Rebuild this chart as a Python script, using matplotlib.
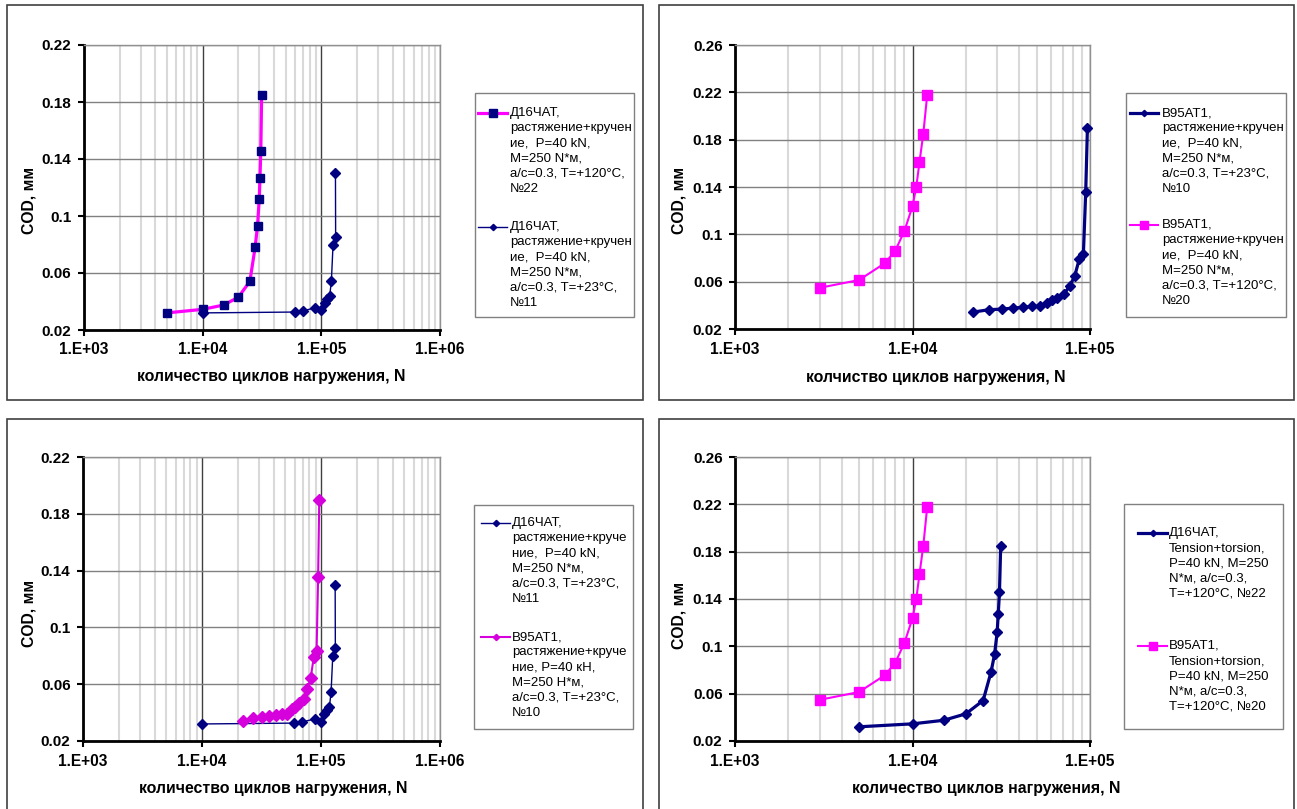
import numpy as np
import matplotlib
matplotlib.use('Agg')
from matplotlib import pyplot as plt
from matplotlib.lines import Line2D
from matplotlib.patches import Rectangle
from matplotlib.ticker import LogLocator

plt.rcParams['font.family'] = ['Liberation Sans', 'DejaVu Sans']

# Д16ЧАТ, T=+120°C, №22
d16_n22_N = [5000, 10000, 15000, 20000, 25000, 27700, 29000, 30000, 30400, 30900, 31400]
d16_n22_cod = [0.032, 0.0345, 0.0375, 0.043, 0.0542, 0.0783, 0.0933, 0.1122, 0.127, 0.1455, 0.1852]

# Д16ЧАТ, T=+23°C, №11
d16_n11_N = [10000, 59500, 69500, 89000, 100000, 107000, 112500, 117500, 121500, 125500, 132000, 131500]
d16_n11_cod = [0.032, 0.0326, 0.0335, 0.0355, 0.0337, 0.039, 0.0418, 0.0436, 0.0542, 0.0797, 0.0853, 0.130]

# В95АТ1, T=+23°C, №10
b95_n10_N = [22000, 26900, 31800, 36800, 41900, 46900, 52200, 57000, 60800, 65500, 71300,
             76800, 82000, 87100, 91800, 94600, 96700]
b95_n10_cod = [0.0343, 0.0363, 0.0368, 0.0377, 0.0383, 0.0391, 0.0391, 0.0422, 0.0442, 0.0465, 0.0493,
               0.0563, 0.0647, 0.0794, 0.0837, 0.1358, 0.1899]

# В95АТ1, T=+120°C, №20
b95_n20_N = [3000, 5000, 7000, 8000, 9000, 10000, 10500, 10950, 11500, 12100]
b95_n20_cod = [0.0548, 0.0614, 0.0757, 0.0862, 0.1028, 0.1237, 0.1400, 0.1611, 0.1848, 0.2178]

x_label = 'количество циклов нагружения, N'
x_label_typo = 'колчиство циклов нагружения, N'
y_label = 'COD, мм'

leg_d16_22_ru = ['Д16ЧАТ,', 'растяжение+кручен', 'ие,  P=40 kN,', 'M=250 N*м,', 'a/c=0.3, T=+120°C,', '№22']
leg_d16_11_ru = ['Д16ЧАТ,', 'растяжение+кручен', 'ие,  P=40 kN,', 'M=250 N*м,', 'a/c=0.3, T=+23°C,', '№11']
leg_b95_10_ru = ['В95АТ1,', 'растяжение+кручен', 'ие,  P=40 kN,', 'M=250 N*м,', 'a/c=0.3, T=+23°C,', '№10']
leg_b95_20_ru = ['В95АТ1,', 'растяжение+кручен', 'ие,  P=40 kN,', 'M=250 N*м,', 'a/c=0.3, T=+120°C,', '№20']
leg_d16_11_b = ['Д16ЧАТ,', 'растяжение+круче', 'ние,  P=40 kN,', 'M=250 N*м,', 'a/c=0.3, T=+23°C,', '№11']
leg_b95_10_b = ['В95АТ1,', 'растяжение+круче', 'ние, P=40 кН,', 'M=250 Н*м,', 'a/c=0.3, T=+23°C,', '№10']
leg_d16_22_en = ['Д16ЧАТ,', 'Tension+torsion,', 'P=40 kN, M=250', 'N*м, a/c=0.3,', 'T=+120°C, №22']
leg_b95_20_en = ['В95АТ1,', 'Tension+torsion,', 'P=40 kN, M=250', 'N*м, a/c=0.3,', 'T=+120°C, №20']

NAVY = '#000080'
MAGENTA = '#ff00ff'
VIOLET = '#d600dc'

W, H = 1297, 809
fig = plt.figure(figsize=(W / 100, H / 100), dpi=100)


def fx(px):
    return px / W


def fy(py):
    return 1 - py / H


def make_axes(left, top, right, bottom, x_decades, ymax):
    ax = fig.add_axes([fx(left), fy(bottom), (right - left) / W, (bottom - top) / H])
    ax.set_xscale('log')
    ax.set_xlim(1e3, 10 ** (3 + x_decades))
    ax.set_ylim(0.02, ymax)
    xt = [10 ** (3 + i) for i in range(x_decades + 1)]
    ax.set_xticks(xt, ['1.E+%02d' % (3 + i) for i in range(x_decades + 1)], fontweight='bold', fontsize=11.2)
    yt = np.arange(0.02, ymax + 0.001, 0.04)
    ax.set_yticks(yt, ['%g' % round(v, 2) for v in yt], fontweight='bold', fontsize=11)
    ax.xaxis.set_minor_locator(LogLocator(base=10, subs=np.arange(2, 10)))
    ax.tick_params(which='minor', length=0)
    ax.tick_params(which='major', direction='out', length=4, width=1.5, pad=5)
    ax.grid(which='minor', axis='x', color='#d9d9d9', lw=1.5)
    ax.grid(which='major', axis='x', color='#404040', lw=1)
    ax.grid(which='major', axis='y', color='#808080', lw=1)
    ax.set_axisbelow(True)
    for side in ['top', 'right']:
        ax.spines[side].set_color('#909090')
        ax.spines[side].set_linewidth(1)
    for side in ['left', 'bottom']:
        ax.spines[side].set_linewidth(2)
    return ax


def panel_frame(x0, y0, x1, y1):
    fig.patches.append(Rectangle((fx(x0), fy(y1)), (x1 - x0) / W, (y1 - y0) / H, transform=fig.transFigure,
                                 fill=False, edgecolor='#404040', lw=1.2))


def legend_box(x0, y0, x1, y1, entries, hx0, hx1, tx, step=15.1):
    fig.patches.append(Rectangle((fx(x0), fy(y1)), (x1 - x0) / W, (y1 - y0) / H, transform=fig.transFigure,
                                 fill=False, edgecolor='#808080', lw=1))
    for ly, style, lines in entries:
        fig.add_artist(Line2D([fx(hx0), fx(hx1)], [fy(ly), fy(ly)], transform=fig.transFigure,
                              color=style['color'], lw=style['lw']))
        fig.add_artist(Line2D([fx((hx0 + hx1) / 2)], [fy(ly)], transform=fig.transFigure,
                              marker=style['marker'], ms=style['lms'], color=style['mc'], lw=0))
        for i, t in enumerate(lines):
            fig.text(fx(tx), fy(ly + i * step), t, fontsize=9.5, ha='left', va='center')


s_d16_22_p1 = dict(color=MAGENTA, lw=2.3, marker='s', ms=5.5, mc=NAVY, lms=5.5)
s_d16_11 = dict(color=NAVY, lw=1.0, marker='D', ms=4.8, mc=NAVY, lms=3.2)
s_b95_10_p2 = dict(color=NAVY, lw=2.3, marker='D', ms=4.8, mc=NAVY, lms=3.2)
s_b95_20 = dict(color=MAGENTA, lw=1.5, marker='s', ms=7.3, mc=MAGENTA, lms=5.5)
s_b95_10_p3 = dict(color=VIOLET, lw=1.5, marker='D', ms=6.0, mc=VIOLET, lms=3.2)
s_d16_22_p4 = dict(color=NAVY, lw=2.3, marker='D', ms=5.0, mc=NAVY, lms=3.2)


def draw(ax, N, cod, style):
    ax.plot(N, cod, color=style['color'], lw=style['lw'], marker=style['marker'], ms=style['ms'],
            mfc=style['mc'], mec=style['mc'], zorder=3, clip_on=False)


# panel frames
panel_frame(7, 5, 643, 400)
panel_frame(659, 5, 1294, 400)
panel_frame(7, 419, 643, 812)
panel_frame(659, 419, 1294, 812)

# top left
ax1 = make_axes(84, 45, 440, 330, 3, 0.22)
draw(ax1, d16_n11_N, d16_n11_cod, s_d16_11)
draw(ax1, d16_n22_N, d16_n22_cod, s_d16_22_p1)
fig.text(fx(29), fy(200), y_label, rotation=90, ha='center', va='center', fontweight='bold', fontsize=11.3)
fig.text(fx(271), fy(377), x_label, ha='center', va='center', fontweight='bold', fontsize=11.4)
legend_box(475, 93, 634, 317, [(113, s_d16_22_p1, leg_d16_22_ru), (227, s_d16_11, leg_d16_11_ru)],
           478, 507, 510)

# top right
ax2 = make_axes(735, 45, 1090, 329, 2, 0.26)
draw(ax2, b95_n10_N, b95_n10_cod, s_b95_10_p2)
draw(ax2, b95_n20_N, b95_n20_cod, s_b95_20)
fig.text(fx(679), fy(200), y_label, rotation=90, ha='center', va='center', fontweight='bold', fontsize=11.3)
fig.text(fx(936), fy(378), x_label_typo, ha='center', va='center', fontweight='bold', fontsize=11.4)
legend_box(1126, 93, 1286, 317, [(113, s_b95_10_p2, leg_b95_10_ru), (225, s_b95_20, leg_b95_20_ru)],
           1130, 1158, 1162)

# bottom left
ax3 = make_axes(83, 457, 440, 741, 3, 0.22)
draw(ax3, d16_n11_N, d16_n11_cod, s_d16_11)
draw(ax3, b95_n10_N, b95_n10_cod, s_b95_10_p3)
fig.text(fx(29), fy(613), y_label, rotation=90, ha='center', va='center', fontweight='bold', fontsize=11.3)
fig.text(fx(273), fy(788), x_label, ha='center', va='center', fontweight='bold', fontsize=11.4)
legend_box(474, 505, 633, 729, [(523, s_d16_11, leg_d16_11_b), (637, s_b95_10_p3, leg_b95_10_b)],
           481, 510, 512)

# bottom right
ax4 = make_axes(735, 457, 1090, 741, 2, 0.26)
draw(ax4, d16_n22_N, d16_n22_cod, s_d16_22_p4)
draw(ax4, b95_n20_N, b95_n20_cod, s_b95_20)
fig.text(fx(679), fy(615), y_label, rotation=90, ha='center', va='center', fontweight='bold', fontsize=11.3)
fig.text(fx(986), fy(788), x_label, ha='center', va='center', fontweight='bold', fontsize=11.4)
legend_box(1124, 504, 1283, 729, [(533, s_d16_22_p4, leg_d16_22_en), (646, s_b95_20, leg_b95_20_en)],
           1138, 1167, 1169)

fig.savefig('out.png', dpi=100)
